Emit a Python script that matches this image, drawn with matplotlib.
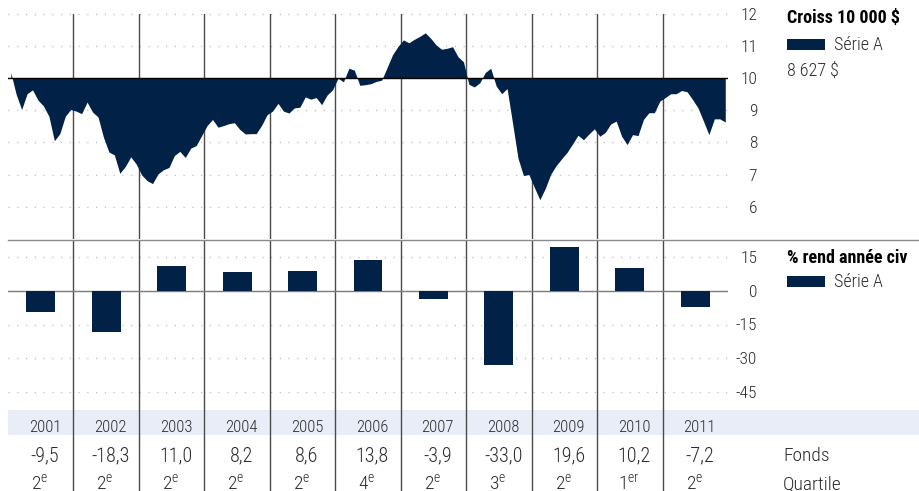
import matplotlib
matplotlib.use('Agg')
import matplotlib.pyplot as plt
from matplotlib import font_manager as fm
from matplotlib.patches import Rectangle
from matplotlib.lines import Line2D

# police étroite, proche de celle de l'original
installed = {f.name for f in fm.fontManager.ttflist}
narrow = [f for f in ['Roboto Condensed', 'Archivo Narrow', 'Barlow Semi Condensed']
          if f in installed]
plt.rcParams['font.family'] = narrow[:1] + ['DejaVu Sans']
plt.rcParams['font.weight'] = 'light'
plt.rcParams['mathtext.fontset'] = 'custom'

# ────── données ──────
# croissance de 10 000 $ (en milliers), un point par mois, janv. 2001 -> déc. 2011
growth = [
    10.17, 9.49, 9.02, 9.51, 9.63, 9.31, 9.13, 8.81, 8.05, 8.27, 8.81, 9.02,
    8.97, 8.89, 9.25, 8.94, 8.79, 8.16, 7.70, 7.61, 7.04, 7.25, 7.55, 7.33,
    6.99, 6.81, 6.72, 7.02, 7.15, 7.22, 7.59, 7.72, 7.53, 7.82, 7.90, 8.21,
    8.52, 8.71, 8.47, 8.52, 8.58, 8.61, 8.40, 8.26, 8.27, 8.27, 8.53, 8.86,
    8.97, 9.21, 8.97, 8.91, 9.07, 9.09, 9.41, 9.34, 9.39, 9.17, 9.47, 9.63,
    9.99, 9.88, 10.30, 10.24, 9.77, 9.79, 9.82, 9.89, 9.93, 10.32, 10.72, 10.98,
    11.18, 11.09, 11.20, 11.29, 11.40, 11.23, 11.02, 10.89, 10.92, 10.97, 10.66, 10.50,
    9.80, 9.72, 9.85, 10.17, 10.30, 9.75, 9.51, 9.67, 8.60, 7.51, 6.97, 7.00,
    6.60, 6.22, 6.57, 7.01, 7.28, 7.49, 7.69, 7.95, 8.22, 8.08, 8.26, 8.42,
    8.19, 8.31, 8.57, 8.66, 8.19, 7.93, 8.24, 8.21, 8.71, 8.92, 8.92, 9.28,
    9.39, 9.51, 9.51, 9.61, 9.57, 9.33, 9.07, 8.66, 8.24, 8.73, 8.73, 8.63,
]
years = [2001, 2002, 2003, 2004, 2005, 2006, 2007, 2008, 2009, 2010, 2011]
returns = [-9.5, -18.3, 11.0, 8.2, 8.6, 13.8, -3.9, -33.0, 19.6, 10.2, -7.2]
quartiles = [2, 2, 2, 2, 2, 4, 2, 3, 2, 1, 2]
growth_ticks = [6, 7, 8, 9, 10, 11, 12]
return_ticks = [15, 0, -15, -30, -45]
final_value = '8 627 $'

NAVY = '#012246'
TXT = '#2b2b2b'
VLINE = '#4a4a4a'
DOT = '#bdbdbd'
BAND = '#e9edf8'

W, H = 919, 491
fig = plt.figure(figsize=(W / 100, H / 100), dpi=100)

def box(x0, y0, x1, y1):
    # rectangle en pixels (haut-gauche) -> coordonnées figure
    return [x0 / W, 1 - y1 / H, (x1 - x0) / W, (y1 - y0) / H]

def fy(py):
    return 1 - py / H

n_months = 12 * len(years)
x = [i + 0.5 for i in range(n_months)]

ax_g = fig.add_axes(box(8, 13.5, 728, 239))
ax_r = fig.add_axes(box(8, 240, 728, 409))
ax_t = fig.add_axes(box(8, 409, 919, 491))

for ax in (ax_g, ax_r):
    ax.set_xlim(0, n_months)
    for s in ax.spines.values():
        s.set_visible(False)
    ax.set_xticks([])
    ax.yaxis.tick_right()
    ax.tick_params(axis='y', length=0, pad=21, labelsize=12.5, labelcolor=TXT)
    for k in range(1, len(years)):
        ax.axvline(12 * k, color=VLINE, lw=1.0, zorder=1)

# ────── croissance de 10 000 $ ──────
ax_g.set_ylim(5, 12)
for v in growth_ticks:
    if v != 10:
        ax_g.axhline(v, color=DOT, lw=0.9, ls=(0, (1, 6)), zorder=0, clip_on=False)
ax_g.fill_between(x, growth, 10, color=NAVY, lw=0, interpolate=True, zorder=2)
ax_g.axhline(10, color='black', lw=1.0, zorder=3)
ax_g.set_yticks(growth_ticks)
ax_g.set_yticklabels([str(v) for v in growth_ticks])

# ────── rendement par année civile ──────
ax_r.set_ylim(-52.5, 22.5)
for v in return_ticks:
    if v != 0:
        ax_r.axhline(v, color=DOT, lw=0.9, ls=(0, (1, 6)), zorder=0)
ax_r.axhline(0, color='#7a7a7a', lw=1.0, zorder=1)
ax_r.bar([12 * k + 6 for k in range(len(years))], returns, width=5.3,
         color=NAVY, zorder=2)
ax_r.set_yticks(return_ticks)
ax_r.set_yticklabels([str(v) for v in return_ticks])

for ax in (ax_g, ax_r):
    for lab in ax.get_yticklabels():
        lab.set_horizontalalignment('right')

# séparateur entre les deux panneaux
fig.add_artist(Line2D([8 / W, 1], [fy(239.5), fy(239.5)], color='#8a8a8a', lw=1.0))

# ────── tableau ──────
ax_t.set_xlim(0, n_months * (919 - 8) / (728 - 8))
ax_t.set_ylim(82, 0)
ax_t.axis('off')
ax_t.axhspan(1, 26, color=BAND, lw=0, zorder=0)
for k in range(1, len(years)):
    ax_t.plot([12 * k, 12 * k], [0, 82], color=VLINE, lw=1.0, zorder=1, clip_on=False)

def suffix(q):
    return 'er' if q == 1 else 'e'

for k, (yr, r, q) in enumerate(zip(years, returns, quartiles)):
    cx = 12 * k + 6.8
    ax_t.text(cx, 22.5, str(yr), ha='center', va='baseline', fontsize=12, color=TXT)
    ax_t.text(cx, 52, f'{r:.1f}'.replace('.', ','), ha='center', va='baseline',
              fontsize=14.5, color=TXT)
    ax_t.text(cx - 1.0, 81, f'{q}' + r'$^{\mathregular{' + suffix(q) + '}}$',
              ha='center', va='baseline', fontsize=14, color=TXT, clip_on=False)

x_fonds = n_months * (783 - 8) / (728 - 8)
ax_t.text(x_fonds, 52, 'Fonds', ha='left', va='baseline', fontsize=14, color=TXT)
ax_t.text(x_fonds, 81, 'Quartile', ha='left', va='baseline', fontsize=14, color=TXT,
          clip_on=False)

# ────── légendes ──────
fig.text(787 / W, fy(23), 'Croiss 10 000 $', fontsize=13, fontweight='bold',
         color='black', va='baseline')
fig.add_artist(Rectangle((787 / W, fy(50)), 38 / W, 11 / H, color=NAVY, lw=0))
fig.text(834 / W, fy(50), 'Série A', fontsize=13, color=TXT, va='baseline')
fig.text(787 / W, fy(76), final_value, fontsize=13, color=TXT, va='baseline')

fig.text(787 / W, fy(263), '% rend année civ', fontsize=13, fontweight='bold',
         color='black', va='baseline')
fig.add_artist(Rectangle((787 / W, fy(287)), 38 / W, 11 / H, color=NAVY, lw=0))
fig.text(834 / W, fy(287), 'Série A', fontsize=13, color=TXT, va='baseline')

fig.savefig('out.png', dpi=100)
